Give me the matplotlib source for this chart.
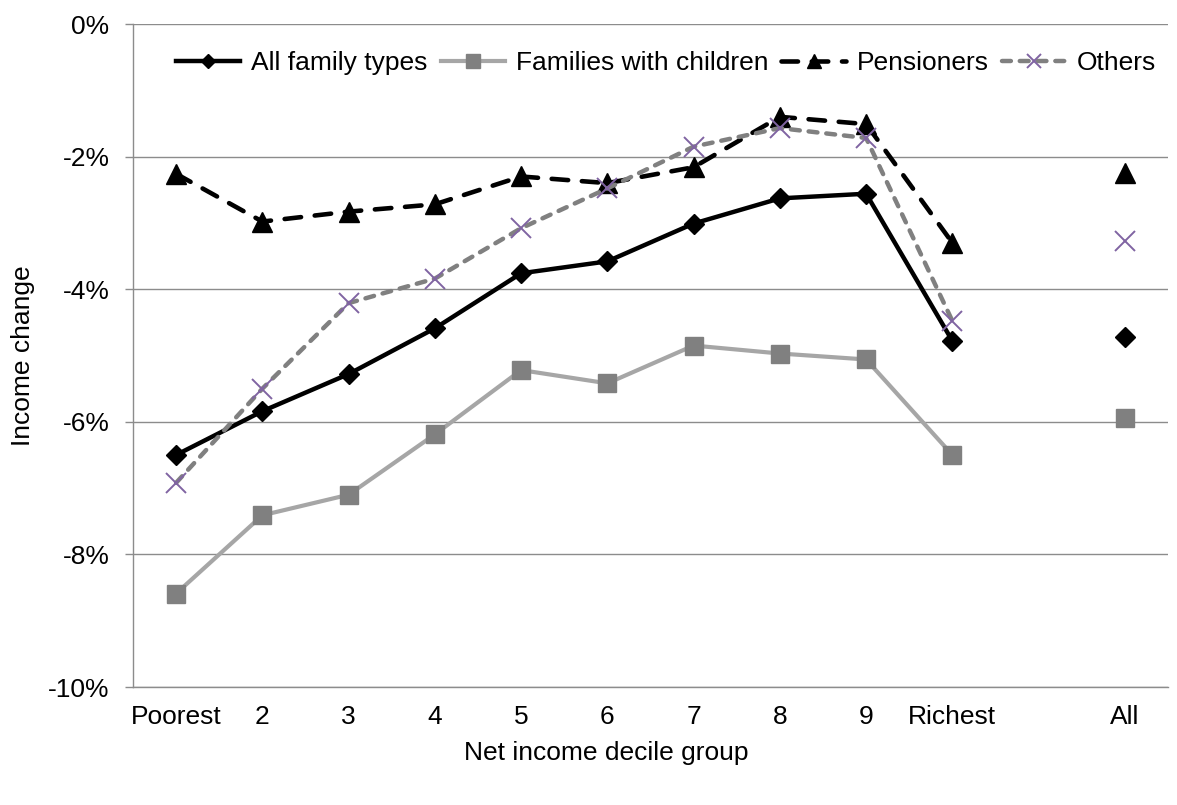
import numpy as np
import matplotlib
matplotlib.use("Agg")
import matplotlib.pyplot as plt

plt.rcParams['font.family'] = ['Liberation Sans', 'DejaVu Sans']

# Decile groups, with an empty slot before the overall figure
groups = ['Poorest', '2', '3', '4', '5', '6', '7', '8', '9', 'Richest', '', 'All']

# Income change by group (%), nan = gap between deciles and "All"
all_types = [-6.50, -5.84, -5.28, -4.59, -3.76, -3.58, -3.01, -2.63, -2.56, -4.78, np.nan, -4.72]
with_children = [-8.59, -7.41, -7.10, -6.19, -5.22, -5.42, -4.85, -4.97, -5.06, -6.50, np.nan, -5.95]
pensioners = [-2.26, -2.98, -2.83, -2.72, -2.30, -2.40, -2.16, -1.40, -1.51, -3.30, np.nan, -2.25]
others = [-6.92, -5.50, -4.21, -3.84, -3.08, -2.48, -1.85, -1.57, -1.72, -4.48, np.nan, -3.27]

yticks = [0, -2, -4, -6, -8, -10]

x = np.arange(1, len(groups) + 1)
fs = 19

fig = plt.figure(figsize=(11.77, 8.05), dpi=100)
ax = fig.add_axes([133 / 1177, 1 - 687 / 805, (1168 - 133) / 1177, (687 - 24) / 805])

ax.plot(x, all_types, color='black', lw=3.2, marker='D', ms=10.5,
        label='All family types', zorder=5)
ax.plot(x, with_children, color='#a6a6a6', lw=3.0, marker='s', ms=13.5,
        mfc='#808080', mec='#808080', label='Families with children', zorder=3)
ax.plot(x, pensioners, color='black', lw=3.3, marker='^', ms=15,
        dashes=(3.6, 3.0), dash_capstyle='round', label='Pensioners', zorder=4)
ax.plot(x, others, color='#808080', lw=3.2, marker='x', ms=14.5, mec='#8064a2',
        mew=1.4, dashes=(2.0, 2.0), dash_capstyle='round', label='Others', zorder=6)

ax.set_xlim(0.5, len(groups) + 0.5)
ax.set_ylim(-10, 0)
ax.set_yticks(yticks)
ax.set_yticklabels([f'{t}%' for t in yticks])
ax.set_xticks(x)
ax.set_xticklabels(groups)

ax.grid(axis='y', color='#8c8c8c', lw=1.0)
ax.set_axisbelow(True)
for side in ['top', 'right']:
    ax.spines[side].set_visible(False)
for side in ['left', 'bottom']:
    ax.spines[side].set_color('#8c8c8c')
    ax.spines[side].set_linewidth(1.0)

ax.tick_params(axis='y', length=6, width=1.0, color='#8c8c8c', pad=11, labelsize=fs)
ax.tick_params(axis='x', length=0, pad=13, labelsize=fs)

fig.text(23 / 1177, 1 - 356 / 805, 'Income change', rotation=90,
         ha='center', va='center', fontsize=fs)
fig.text(606 / 1177, 1 - 753 / 805, 'Net income decile group',
         ha='center', va='center', fontsize=fs)

fig.legend(loc='center', bbox_to_anchor=(666 / 1177, 1 - 63 / 805), ncol=4,
           frameon=False, fontsize=fs, handlelength=2.45, handletextpad=0.4,
           columnspacing=0.5, markerscale=0.7, borderaxespad=0)

fig.savefig('out.png', dpi=100)
